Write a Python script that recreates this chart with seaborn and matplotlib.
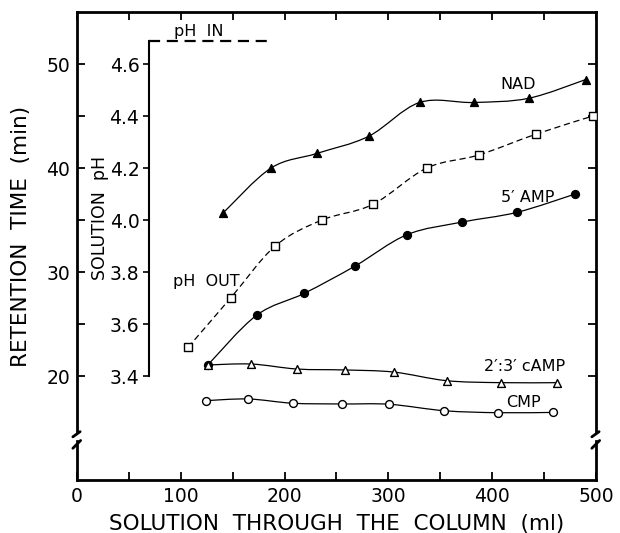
import numpy as np
import pandas as pd
import matplotlib
matplotlib.use("Agg")
import matplotlib.pyplot as plt
from matplotlib.path import Path
from matplotlib.patches import PathPatch
import matplotlib.transforms as mtransforms
import seaborn as sns

# ---- data: solution volume (ml) vs retention time (min) / effluent pH ----
nad_ml = [141, 187, 231, 281, 330, 382, 435, 490]
nad_rt = [35.7, 40.0, 41.4, 43.05, 46.3, 46.3, 46.7, 48.5]

amp_ml = [126, 173, 219, 268, 318, 371, 424, 480]
amp_rt = [21.06, 25.84, 27.95, 30.58, 33.59, 34.8, 35.74, 37.5]

camp_ml = [126, 168, 212, 258, 305, 356, 408, 462]
camp_rt = [21.06, 21.15, 20.67, 20.58, 20.38, 19.55, 19.36, 19.36]

cmp_ml = [124, 165, 208, 255, 301, 354, 406, 459]
cmp_rt = [17.63, 17.79, 17.38, 17.31, 17.28, 16.66, 16.47, 16.5]

ph_out_ml = [107, 148, 191, 236, 285, 337, 387, 442, 497]
ph_out = [3.51, 3.70, 3.90, 4.00, 4.06, 4.20, 4.25, 4.33, 4.40]

ph_in = 4.69
ph_in_ml = [69.5, 183]

x_ticks = [0, 100, 200, 300, 400, 500]
rt_ticks = [20, 30, 40, 50]
ph_ticks = [3.4, 3.6, 3.8, 4.0, 4.2, 4.4, 4.6]

# pH scale is aligned with retention time: pH 3.4 <-> 20 min, 0.2 pH per 5 min
RT_LIM = (10, 55)
def rt_to_ph(rt):
    return 3.4 + 0.04 * (rt - 20)

sns.set_theme(style="ticks")
plt.rcParams["font.family"] = ["DejaVu Sans"]
for key in ("text.color", "axes.labelcolor", "xtick.color", "ytick.color",
            "axes.edgecolor"):
    plt.rcParams[key] = "black"

fig = plt.figure(figsize=(6.2, 5.33), dpi=100)
ax = fig.add_axes([77 / 620, 1 - 480 / 533, 519 / 620, 468 / 533])
ax.set_xlim(0, 500)
ax.set_ylim(*RT_LIM)

ax2 = ax.twinx()
ax2.set_ylim(rt_to_ph(RT_LIM[0]), rt_to_ph(RT_LIM[1]))


def smooth_curve(axis, xs, ys, **kw):
    """Draw a Catmull-Rom style Bezier curve through the given points."""
    p = np.column_stack([xs, ys]).astype(float)
    ext = np.vstack([p[0], p, p[-1]])
    verts = [tuple(p[0])]
    codes = [Path.MOVETO]
    for i in range(1, len(ext) - 2):
        p0, p1, p2, p3 = ext[i - 1], ext[i], ext[i + 1], ext[i + 2]
        c1 = p1 + (p2 - p0) / 6.0
        c2 = p2 - (p3 - p1) / 6.0
        verts += [tuple(c1), tuple(c2), tuple(p2)]
        codes += [Path.CURVE4] * 3
    patch = PathPatch(Path(verts, codes), fill=False, **kw)
    axis.add_patch(patch)


line_kw = dict(edgecolor="black", linewidth=0.9, zorder=2)
smooth_curve(ax, nad_ml, nad_rt, **line_kw)
smooth_curve(ax, amp_ml, amp_rt, **line_kw)
smooth_curve(ax, camp_ml, camp_rt, **line_kw)
smooth_curve(ax, cmp_ml, cmp_rt, **line_kw)
smooth_curve(ax2, ph_out_ml, ph_out, edgecolor="black", linewidth=0.9,
             linestyle=(0, (5, 3)), zorder=2)

mk = dict(s=32, linewidth=1.0, edgecolor="black", zorder=3, legend=False)
sns.scatterplot(x=nad_ml, y=nad_rt, marker="^", color="black", ax=ax, **mk)
sns.scatterplot(x=amp_ml, y=amp_rt, marker="o", color="black", ax=ax, **mk)
sns.scatterplot(x=camp_ml, y=camp_rt, marker="^", color="white", ax=ax, **mk)
sns.scatterplot(x=cmp_ml, y=cmp_rt, marker="o", color="white", ax=ax, **mk)
sns.scatterplot(x=ph_out_ml, y=ph_out, marker="s", color="white", ax=ax2,
                **dict(mk, s=28))

# inlet pH
ax2.plot(ph_in_ml, [ph_in, ph_in], color="black", linewidth=1.6,
         linestyle=(0, (5, 3)), zorder=2)

# ---- frame with broken vertical axes ----
SPW = 2.0
for s in ("left", "right"):
    ax.spines[s].set_visible(False)
for s in ("top", "bottom"):
    ax.spines[s].set_linewidth(SPW)
    ax.spines[s].set_color("black")

blend = mtransforms.blended_transform_factory(ax.transAxes, ax.transData)
for xa in (0.0, 1.0):
    ax.plot([xa, xa], [14.6, RT_LIM[1]], transform=blend, color="black",
            lw=SPW, clip_on=False, solid_capstyle="projecting")
    ax.plot([xa, xa], [RT_LIM[0], 13.75], transform=blend, color="black",
            lw=SPW, clip_on=False, solid_capstyle="projecting")
    ax.plot([xa - 0.008, xa + 0.006], [14.15, 14.65], transform=blend,
            color="black", lw=SPW, clip_on=False)
    ax.plot([xa - 0.008, xa + 0.007], [13.05, 13.8], transform=blend,
            color="black", lw=SPW, clip_on=False)

ax.set_xticks(x_ticks)
ax.set_xticks(np.arange(50, 500, 100), minor=True)
ax.set_yticks(rt_ticks)
ax.set_yticks([25, 35, 45], minor=True)
ax.tick_params(axis="both", which="both", direction="in", top=True,
               right=True, labelright=False, labeltop=False, width=1.3,
               color="black")
ax.tick_params(which="major", length=6, labelsize=13.5, pad=5)
ax.tick_params(which="minor", length=6)
ax.set_xticklabels([str(t) for t in x_ticks])
ax.set_yticklabels([str(t) for t in rt_ticks])

ax.set_xlabel("SOLUTION  THROUGH  THE  COLUMN  (ml)", fontsize=15.5,
              labelpad=6)
ax.set_ylabel("")
ax.text(-0.108, 0.52, "RETENTION  TIME  (min)", transform=ax.transAxes,
        rotation=90, ha="center", va="center", fontsize=15.5)

# ---- pH axis ----
for s in ("top", "bottom", "right"):
    ax2.spines[s].set_visible(False)
ax2.spines["left"].set_visible(True)
ax2.spines["left"].set_position(("data", ph_in_ml[0]))
ax2.spines["left"].set_bounds(3.4, ph_in)
ax2.spines["left"].set_linewidth(1.5)
ax2.spines["left"].set_color("black")
ax2.yaxis.tick_left()
ax2.set_yticks(ph_ticks)
ax2.set_yticklabels([f"{t:.1f}" for t in ph_ticks])
ax2.tick_params(axis="y", direction="out", length=4, width=1.2,
                labelsize=13.5, pad=3, color="black")
ax2.set_ylabel("")
ax.text(0.044, 0.56, "SOLUTION  pH", transform=ax.transAxes, rotation=90,
        ha="center", va="center", fontsize=12.5)

# ---- curve labels ----
lab = dict(fontsize=11.5, ha="center", va="center", color="black")
ax.text(117, 53.1, "pH  IN", **lab)
ax.text(425, 48.0, "NAD", **lab)
ax.text(434, 37.2, "5\u2032 AMP", **lab)
ax.text(431, 20.96, "2\u2032:3\u2032 cAMP", **lab)
ax.text(430, 17.45, "CMP", **lab)
ax.text(125, 29.1, "pH  OUT", **lab)

fig.savefig("out.png", dpi=100)
